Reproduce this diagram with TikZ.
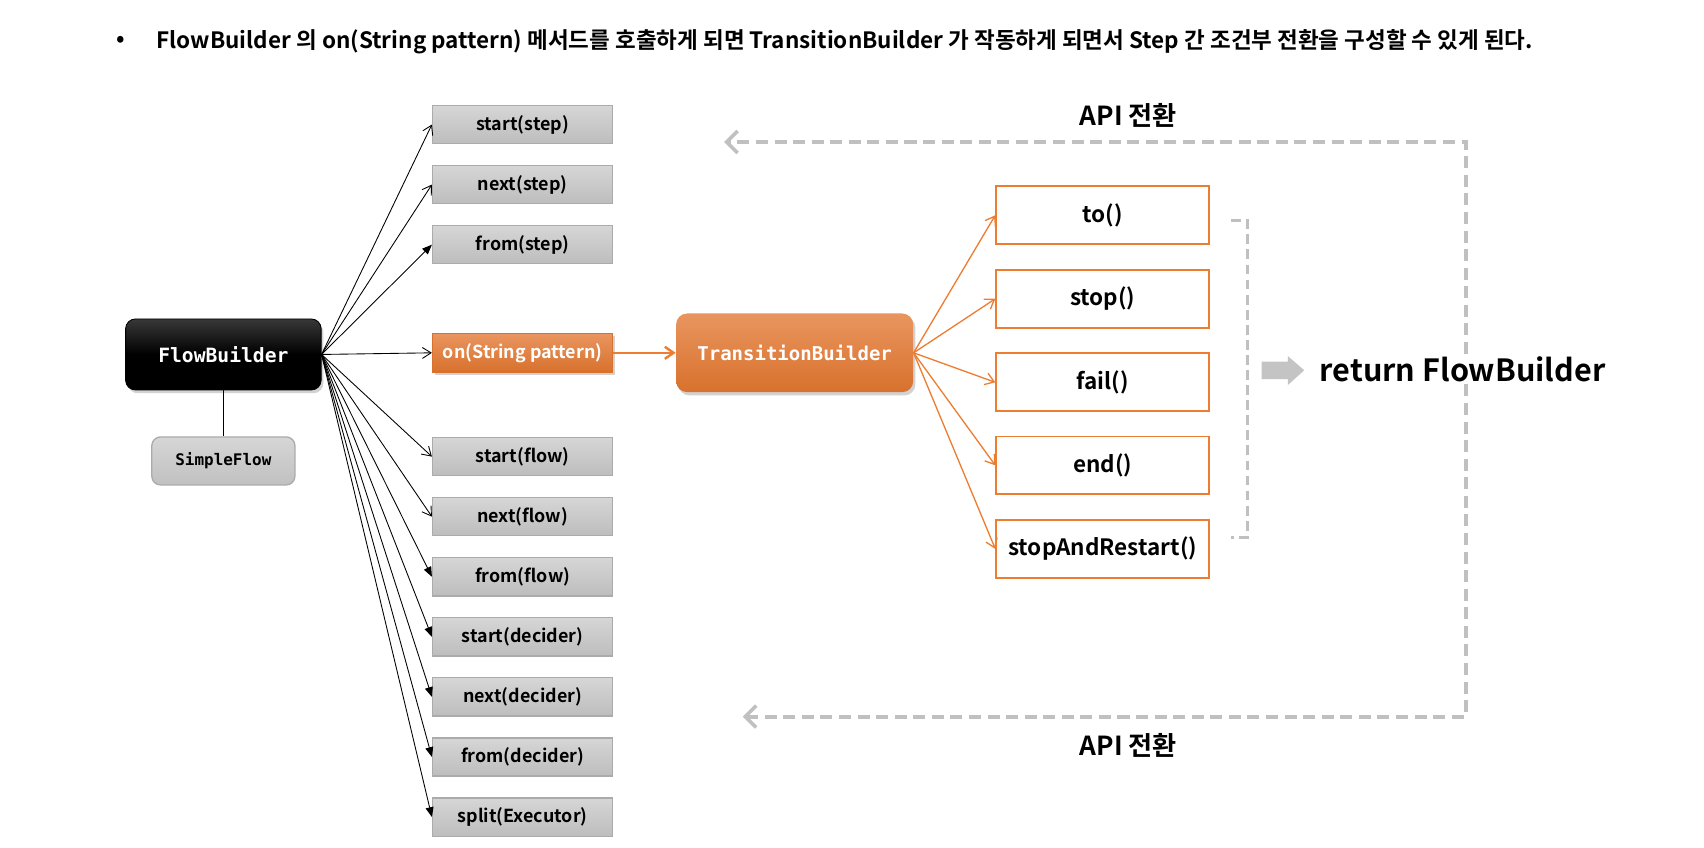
\documentclass[tikz,border=0pt]{standalone}
\usepackage{fontspec}
\setmainfont{Noto Sans CJK KR}[BoldFont={Noto Sans CJK KR Bold}]
\setmonofont{DejaVu Sans Mono}
\usetikzlibrary{arrows.meta,shadows}
\definecolor{orng}{HTML}{ED7D31}
\definecolor{orngT}{HTML}{E9955F}
\definecolor{orngB}{HTML}{D8712D}
\definecolor{grT}{HTML}{D6D6D6}
\definecolor{grB}{HTML}{BDBDBD}
\definecolor{grD}{HTML}{ABABAB}
\definecolor{dashgray}{HTML}{C0C0C0}
\definecolor{blockgray}{HTML}{C4C4C4}
\tikzset{
  mbox/.style={draw=grD, line width=0.6pt, top color=grT, bottom color=grB,
    minimum width=82.5pt, minimum height=17.5pt, inner sep=0pt,
    font=\fontsize{8.2}{10}\selectfont\bfseries},
  onbox/.style={mbox, draw=orngB, top color=orngT, bottom color=orngB, text=white,
    drop shadow={opacity=0.35, shadow xshift=1pt, shadow yshift=-1.2pt}},
  tbox/.style={draw=orng, line width=0.8pt, fill=white,
    minimum width=97.5pt, minimum height=26.5pt, inner sep=0pt,
    font=\fontsize{10.3}{12}\selectfont\bfseries},
  conn/.style={line width=0.4pt, black},
  openarr/.style={-{Straight Barb[length=4pt,width=5pt]}},
  fillarr/.style={-{Triangle[length=4.5pt,width=3.6pt]}},
  oconn/.style={orng, line width=0.6pt, -{Straight Barb[length=4pt,width=5.5pt]}},
  loopline/.style={draw=dashgray, line width=1.8pt, dash pattern=on 5.5pt off 3pt},
  brline/.style={draw=dashgray, line width=1.1pt, dash pattern=on 4.5pt off 2.4pt},
  heading/.style={font=\fontsize{12}{14}\selectfont\bfseries, inner sep=0pt},
}
\begin{document}
\begin{tikzpicture}[x=0.5pt,y=-0.5pt]
\useasboundingbox (0,0) rectangle (1560,776);
\fill[white] (0,0) rectangle (1560,776);

% title
\node[inner sep=0pt, font=\fontsize{10.3}{12}\selectfont\bfseries] (bul) at (111,38) {•};
\node[inner sep=0pt, anchor=west, font=\fontsize{10.3}{12}\selectfont\bfseries] (title) at (143,38)
  {FlowBuilder 의 on(String pattern) 메서드를 호출하게 되면 TransitionBuilder 가 작동하게 되면서 Step 간 조건부 전환을 구성할 수 있게 된다.};

% FlowBuilder
\node[rounded corners=4.5pt, top color=black!78, bottom color=black, middle color=black, draw=black,
  minimum width=89.5pt, minimum height=32.5pt, text=white,
  font=\fontsize{9}{11}\selectfont\ttfamily\bfseries,
  drop shadow={opacity=0.35, shadow xshift=1pt, shadow yshift=-1.5pt}] (fb) at (204.5,324.5) {FlowBuilder};
\node[rounded corners=4pt, draw=grD, line width=0.6pt, top color=grT, bottom color=grB!95,
  minimum width=65.5pt, minimum height=22pt,
  font=\fontsize{7.3}{9}\selectfont\ttfamily\bfseries] (sf) at (204.5,422) {SimpleFlow};
\draw[conn] (fb.south) -- (sf.north);

% method boxes
\node[mbox] (m1) at (478.5,114) {start(step)};
\node[mbox] (m2) at (478.5,169) {next(step)};
\node[mbox] (m3) at (478.5,224) {from(step)};
\node[onbox] (on) at (478.5,323) {on(String pattern)};
\node[mbox] (m5) at (478.5,418) {start(flow)};
\node[mbox] (m6) at (478.5,473) {next(flow)};
\node[mbox] (m7) at (478.5,528) {from(flow)};
\node[mbox] (m8) at (478.5,583) {start(decider)};
\node[mbox] (m9) at (478.5,638) {next(decider)};
\node[mbox] (m10) at (478.5,693) {from(decider)};
\node[mbox] (m11) at (478.5,748) {split(Executor)};

\draw[conn,openarr] (fb.east) -- (m1.west);
\draw[conn,openarr] (fb.east) -- (m2.west);
\draw[conn,fillarr] (fb.east) -- (m3.west);
\draw[conn,openarr] (fb.east) -- (on.west);
\draw[conn,openarr] (fb.east) -- (m5.west);
\draw[conn,openarr] (fb.east) -- (m6.west);
\draw[conn,fillarr] (fb.east) -- (m7.west);
\draw[conn,fillarr] (fb.east) -- (m8.west);
\draw[conn,fillarr] (fb.east) -- (m9.west);
\draw[conn,fillarr] (fb.east) -- (m10.west);
\draw[conn,fillarr] (fb.east) -- (m11.west);

% TransitionBuilder
\node[rounded corners=5pt, top color=orngT, bottom color=orngB, draw=none,
  minimum width=108.5pt, minimum height=36pt, text=white,
  font=\fontsize{8.7}{11}\selectfont\ttfamily\bfseries,
  drop shadow={opacity=0.35, shadow xshift=1pt, shadow yshift=-1.5pt}] (tb) at (727.5,323) {TransitionBuilder};
\draw[oconn, line width=1.1pt] (on.east) -- (tb.west);

% transition boxes
\node[tbox] (t1) at (1009.5,197) {to()};
\node[tbox] (t2) at (1009.5,273.5) {stop()};
\node[tbox] (t3) at (1009.5,350) {fail()};
\node[tbox] (t4) at (1009.5,426) {end()};
\node[tbox] (t5) at (1009.5,502.5) {stopAndRestart()};
\foreach \t in {t1,t2,t3,t4,t5} \draw[oconn] (tb.east) -- (\t.west);

% bracket
\coordinate (bra) at (1127,202);
\coordinate (brb) at (1127,492);
\draw[brline] (bra) -- (1142,202) -- (1142,492) -- (brb);

% return
\fill[blockgray] (1155,331) -- (1179,331) -- (1179,326) -- (1194,339) -- (1179,352.5)
  -- (1179,347) -- (1155,347) -- cycle;
\node[inner sep=1pt, font=\fontsize{14}{17}\selectfont\bfseries] (ret) at (1339,338) {return FlowBuilder};

% loop
\coordinate (lt) at (663,130);
\coordinate (lb) at (680,656);
\draw[loopline, -{Straight Barb[length=5pt,width=10pt,line width=1.6pt]}] (ret.north -| 1342,0) -- (1342,130) -- (lt);
\draw[loopline, -{Straight Barb[length=5pt,width=10pt,line width=1.6pt]}] (ret.south -| 1342,0) -- (1342,656) -- (lb);
\node[heading] (api1) at (1033,106) {API 전환};
\node[heading] (api2) at (1033,682) {API 전환};
\end{tikzpicture}
\end{document}
